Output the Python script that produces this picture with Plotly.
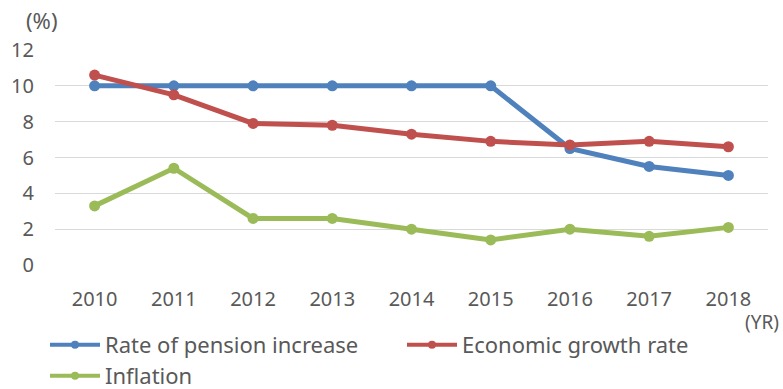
import plotly.graph_objects as go

years = ["2010", "2011", "2012", "2013", "2014", "2015", "2016", "2017", "2018"]
pension_increase = [10, 10, 10, 10, 10, 10, 6.5, 5.5, 5.0]
economic_growth = [10.6, 9.5, 7.9, 7.8, 7.3, 6.9, 6.7, 6.9, 6.6]
inflation = [3.3, 5.4, 2.6, 2.6, 2.0, 1.4, 2.0, 1.6, 2.1]
y_ticks = [0, 2, 4, 6, 8, 10, 12]

series = [
    ("Rate of pension increase", pension_increase, "#4F81BD", "legend"),
    ("Economic growth rate", economic_growth, "#C0504D", "legend2"),
    ("Inflation", inflation, "#9BBB59", "legend3"),
]

font_main = "Noto Sans"
text_color = "#595959"

fig = go.Figure()
for name, vals, color, leg in series:
    # the data line itself
    fig.add_trace(go.Scatter(
        x=years, y=vals, name=name, mode="lines+markers",
        line=dict(color=color, width=5),
        marker=dict(color=color, size=11),
        showlegend=False,
    ))
    # slimmer swatch for the legend key
    fig.add_trace(go.Scatter(
        x=[None], y=[None], name=name, mode="lines+markers",
        line=dict(color=color, width=4),
        marker=dict(color=color, size=8),
        legend=leg, hoverinfo="skip",
    ))

W, H = 783, 389
ml, mr, mt, mb = 55, 15, 50, 124
pw = W - ml - mr
ph = H - mt - mb


def px_x(px):
    return (px - ml) / pw


def px_y(py):
    return (H - mb - py) / ph


legend_common = dict(
    orientation="h", xanchor="left", yanchor="middle",
    itemwidth=50, bgcolor="rgba(0,0,0,0)", borderwidth=0,
    font=dict(family=font_main, size=22, color=text_color),
)

fig.update_layout(
    width=W, height=H,
    margin=dict(l=ml, r=mr, t=mt, b=mb, autoexpand=False),
    paper_bgcolor="white", plot_bgcolor="white",
    font=dict(family=font_main, size=20, color=text_color),
    showlegend=True,
    legend=dict(x=px_x(45), y=px_y(345), **legend_common),
    legend2=dict(x=px_x(402), y=px_y(345), **legend_common),
    legend3=dict(x=px_x(45), y=px_y(376), **legend_common),
    xaxis=dict(
        type="category", range=[-0.5, 8.5],
        showgrid=False, zeroline=False, showline=False,
        ticks="", ticklabelstandoff=20,
        tickfont=dict(family=font_main, size=20, color=text_color),
    ),
    yaxis=dict(
        range=[0, 12], tickvals=y_ticks,
        showgrid=True, gridcolor="#D9D9D9", gridwidth=1,
        zeroline=False, showline=False, ticks="",
        ticklabelstandoff=20,
        tickfont=dict(family=font_main, size=20, color=text_color),
    ),
    annotations=[
        dict(text="(%)", xref="paper", yref="paper",
             x=px_x(24), y=px_y(20),
             xanchor="left", yanchor="middle", showarrow=False,
             font=dict(family=font_main, size=22, color=text_color)),
        dict(text="(YR)", xref="paper", yref="paper",
             x=px_x(781), y=px_y(322),
             xanchor="right", yanchor="middle", showarrow=False,
             font=dict(family=font_main, size=19, color=text_color)),
    ],
)

fig.write_html("out.html")
